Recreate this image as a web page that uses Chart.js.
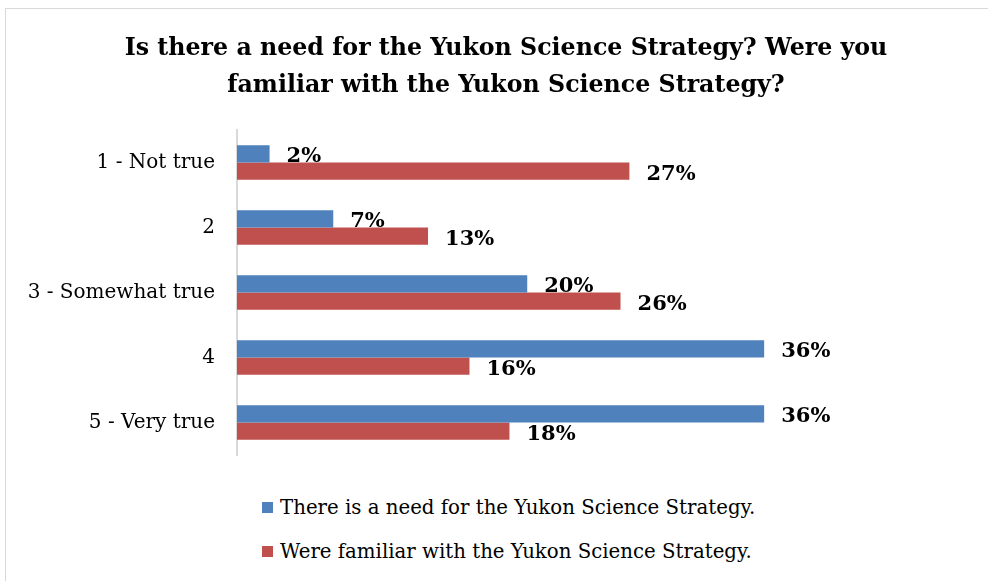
<!DOCTYPE html>
<html>
<head>
<meta charset="utf-8">
<script src="https://cdn.jsdelivr.net/npm/chart.js@4"></script>
<style>
body { margin: 0; background: #fff; overflow: hidden; }
#frame { position: absolute; left: 5px; top: 8px; width: 1100px; height: 600px; border: 1px solid #d9d9d9; }
#chart { position: absolute; left: 0; top: 0; }
#legend { position: absolute; left: 262px; top: 485px; font-family: 'DejaVu Serif', serif; font-size: 19.75px; color: #000; }
.item { display: flex; align-items: center; height: 44px; }
.swatch { width: 11px; height: 11px; margin-right: 7px; }
</style>
</head>
<body>
<div id="frame"></div>
<canvas id="chart" width="1012" height="462"></canvas>
<div id="legend"></div>
<script>
// Chart data
const categories = ['1 - Not true', '2', '3 - Somewhat true', '4', '5 - Very true'];
const seriesNames = ['There is a need for the Yukon Science Strategy.', 'Were familiar with the Yukon Science Strategy.'];
const needValues = [2.2, 6.5, 19.6, 35.6, 35.6];
const familiarValues = [26.5, 12.9, 25.9, 15.7, 18.4];
const colors = ['#4F81BD', '#C0504D'];

const serif = "'DejaVu Serif', serif";

// Percent labels to the right of each bar
const barLabels = {
    id: 'barLabels',
    afterDatasetsDraw(chart) {
        const ctx = chart.ctx;
        ctx.save();
        ctx.font = 'bold 21px ' + serif;
        ctx.fillStyle = '#000';
        ctx.textBaseline = 'middle';
        ctx.textAlign = 'left';
        chart.data.datasets.forEach((ds, i) => {
            chart.getDatasetMeta(i).data.forEach((bar, j) => {
                ctx.fillText(Math.round(ds.data[j]) + '%', bar.x + 17, bar.y + 3);
            });
        });
        ctx.restore();
    }
};

const chart = new Chart(document.getElementById('chart'), {
    type: 'bar',
    data: {
        labels: categories,
        datasets: [
            { label: seriesNames[0], data: needValues, backgroundColor: colors[0] },
            { label: seriesNames[1], data: familiarValues, backgroundColor: colors[1] }
        ]
    },
    options: {
        indexAxis: 'y',
        responsive: false,
        animation: false,
        datasets: { bar: { categoryPercentage: 0.53, barPercentage: 1 } },
        // canvas runs past the window on the right so the title centres on the page
        layout: { padding: { left: 5, right: 5, top: 0, bottom: 7 } },
        scales: {
            x: { display: false, min: 0, max: 52 },
            y: {
                grid: { display: false, drawTicks: false },
                border: { color: '#d9d9d9', width: 2 },
                ticks: { color: '#000', padding: 22, font: { family: serif, size: 20 } },
                afterFit: (scale) => {
                    scale.width = 232;
                    scale.paddingTop = 0;
                    scale.paddingBottom = 0;
                }
            }
        },
        plugins: {
            legend: { display: false },
            tooltip: { enabled: false },
            title: {
                display: true,
                text: ['Is there a need for the Yukon Science Strategy? Were you', 'familiar with the Yukon Science Strategy?'],
                color: '#000',
                font: { family: serif, size: 23.7, weight: 'bold', lineHeight: 1.56 },
                padding: { top: 30, bottom: 26 }
            }
        }
    },
    plugins: [barLabels]
});

// Legend below the chart, one series per row
const legend = document.getElementById('legend');
chart.data.datasets.forEach((ds) => {
    const item = document.createElement('div');
    item.className = 'item';
    item.innerHTML = `<span class="swatch" style="background:${ds.backgroundColor}"></span><span>${ds.label}</span>`;
    legend.appendChild(item);
});
</script>
</body>
</html>
